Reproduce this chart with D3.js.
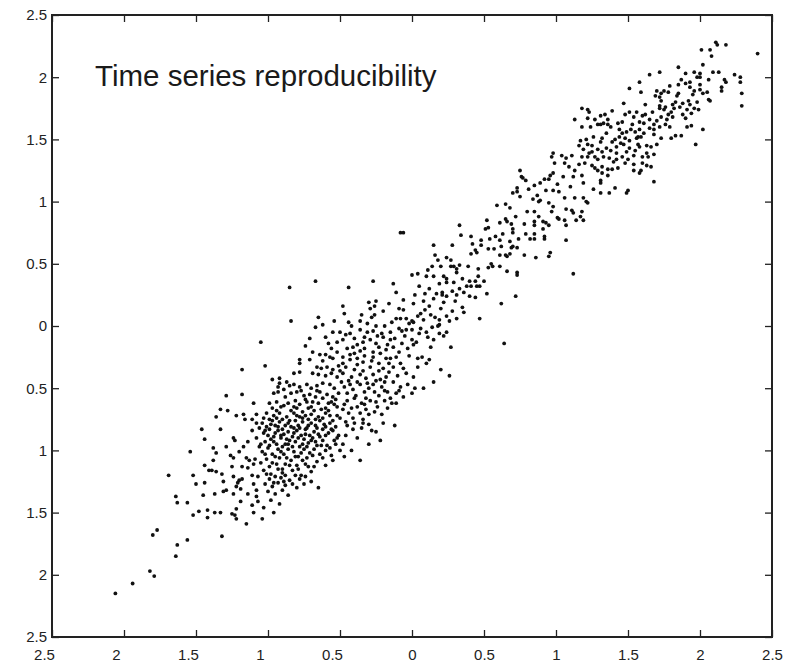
<!DOCTYPE html>
<html><head><meta charset="utf-8">
<script src="https://cdn.jsdelivr.net/npm/d3@7"></script>
<style>body{margin:0;background:#fff}</style>
</head><body>
<svg id="chart" width="785" height="665"></svg>
<script>
const tickValues = [-2.5,-2,-1.5,-1,-0.5,0,0.5,1,1.5,2,2.5];
const tickLabels = ["2.5","2","1.5","1","0.5","0","0.5","1","1.5","2","2.5"];
const titleText = "Time series reproducibility";

const lowerTail = [[-2.06,-2.15],[-1.94,-2.07],[-1.69,-1.20],[-1.64,-1.37],[-1.63,-1.42],[-1.77,-1.64],[-1.80,-1.68],[-1.63,-1.76],[-1.64,-1.85],[-1.82,-1.97],[-1.79,-2.01],
[-1.20,-1.24],[-1.21,-1.26],[-1.31,-1.25],[-1.10,-1.27],[-1.44,-1.26],[-1.50,-1.27],[-1.19,-1.31],[-1.22,-1.29],[-1.08,-1.32],[-1.29,-1.32],[-1.31,-1.33],
[-1.14,-1.35],[-1.24,-1.35],[-1.37,-1.35],[-1.45,-1.36],[-1.56,-1.42],[-1.08,-1.37],[-1.07,-1.41],[-1.19,-1.41],[-1.11,-1.44],[-1.22,-1.47],[-1.25,-1.51],[-1.23,-1.52],
[-1.48,-1.49],[-1.42,-1.48],[-1.37,-1.50],[-1.33,-1.50],[-1.52,-1.52],[-1.42,-1.54],[-1.10,-1.50],[-1.22,-1.55],[-1.15,-1.59],[-1.32,-1.69],[-1.56,-1.72]];

const lowerCore = [[-1.02,-1.27],[-0.97,-1.29],[-0.93,-1.26],[-0.88,-1.28],[-0.83,-1.27],[-1.00,-1.33],[-0.95,-1.35],[-0.90,-1.32],[-0.86,-1.36],[-0.98,-1.40],[-0.92,-1.43],
[-1.03,-1.46],[-0.96,-1.50],[-0.80,-1.30],[-0.75,-1.27],[-1.04,-1.55],[-0.70,-1.25],[-0.65,-1.30],
[-0.45,-0.80],[-0.40,-0.78],[-0.35,-0.82],[-0.30,-0.79],[-0.46,-0.88],[-0.38,-0.90],[-0.48,-0.95],[-0.42,-1.00],[-0.25,-0.85],[-0.20,-0.78],[-0.30,-0.95],[-0.47,-1.05],
[-0.12,-0.80],[-0.36,-1.08],[-0.22,-0.92],
[0.10,-0.30],[0.20,-0.35],[0.15,-0.45],[0.08,-0.50],[0.26,-0.40],[0.64,-0.14],[0.62,0.18]];

const leftFlank = [[-1.18,-0.35],[-1.29,-0.56],[-1.18,-0.55],[-1.10,-0.62],[-1.33,-0.67],[-1.28,-0.68],[-1.36,-0.73],[-1.22,-0.72],[-1.17,-0.71],[-1.16,-0.75],[-1.11,-0.75],[-1.08,-0.71],
[-1.46,-0.83],[-1.33,-0.83],[-1.44,-0.91],[-1.24,-0.90],[-1.23,-0.92],[-1.54,-1.01],[-1.38,-0.98],[-1.36,-1.02],[-1.26,-1.04],[-1.24,-1.06],[-1.20,-1.01],[-1.15,-1.06],[-1.13,-1.08],[-1.09,-1.07],
[-1.44,-1.12],[-1.41,-1.16],[-1.39,-1.16],[-1.36,-1.17],[-1.32,-1.19],[-1.38,-1.08],[-1.25,-1.13],[-1.18,-1.13],[-1.14,-1.14],[-1.10,-1.11],[-1.52,-1.20],[-1.24,-1.21],[-1.18,-1.23],[-1.11,-1.20],
[-1.07,-1.21],[-1.06,-0.97],[-1.08,-0.90],[-1.11,-0.84],[-1.08,-0.78],[-1.14,-0.93],[-1.17,-0.97],[-1.29,-0.97]];

const coreLower = [[-1.04,-0.78],[-1.01,-0.81],[-0.97,-0.76],[-0.95,-0.80],[-0.92,-0.77],[-0.90,-0.83],[-0.86,-0.78],[-0.84,-0.81],[-0.81,-0.76],[-0.79,-0.80],[-0.76,-0.77],[-0.73,-0.82],[-0.70,-0.78],[-0.67,-0.80],[-0.64,-0.76],[-0.61,-0.79],[-0.57,-0.78],[-0.53,-0.81],
[-1.03,-0.86],[-0.99,-0.83],[-0.96,-0.89],[-0.93,-0.84],[-0.89,-0.87],[-0.86,-0.85],[-0.83,-0.89],[-0.80,-0.84],[-0.77,-0.88],[-0.74,-0.83],[-0.71,-0.88],[-0.68,-0.85],[-0.65,-0.87],[-0.62,-0.83],[-0.58,-0.86],[-0.55,-0.84],[-0.51,-0.88],
[-1.02,-0.93],[-0.98,-0.91],[-0.94,-0.95],[-0.91,-0.90],[-0.88,-0.95],[-0.85,-0.92],[-0.81,-0.93],[-0.78,-0.97],[-0.75,-0.91],[-0.72,-0.94],[-0.69,-0.90],[-0.66,-0.96],[-0.62,-0.92],[-0.59,-0.96],[-0.54,-0.92],
[-1.04,-1.01],[-1.00,-0.98],[-0.97,-1.03],[-0.93,-0.99],[-0.89,-1.03],[-0.86,-0.99],[-0.82,-1.01],[-0.79,-1.05],[-0.75,-0.99],[-0.71,-1.02],[-0.68,-0.99],[-0.64,-1.03],[-0.60,-1.00],[-0.56,-1.04],
[-1.01,-1.07],[-0.97,-1.10],[-0.92,-1.06],[-0.88,-1.11],[-0.84,-1.08],[-0.80,-1.12],[-0.76,-1.08],[-0.72,-1.13],[-0.66,-1.09],[-0.60,-1.12],
[-1.03,-1.16],[-0.98,-1.19],[-0.93,-1.15],[-0.88,-1.20],[-0.83,-1.16],[-0.77,-1.20],[-0.70,-1.17],[-0.99,-1.23],[-0.91,-1.22],[-0.85,-1.24],[-0.78,-1.23]];

const coreDense = [[-0.93,-0.49],[-0.89,-0.51],[-0.85,-0.48],[-0.81,-0.60],[-0.77,-0.52],[-0.74,-0.59],[-0.69,-0.61],[-0.66,-0.52],[-0.62,-0.58],[-0.58,-0.62],[-0.53,-0.59],
[-0.97,-0.66],[-0.94,-0.68],[-0.89,-0.64],[-0.84,-0.68],[-0.80,-0.66],[-0.76,-0.69],[-0.72,-0.66],[-0.68,-0.68],[-0.63,-0.67],[-0.58,-0.68],[-0.54,-0.63],
[-1.03,-0.74],[-0.99,-0.75],[-0.94,-0.74],[-0.90,-0.75],[-0.85,-0.76],[-0.80,-0.72],[-0.76,-0.74],[-0.72,-0.75],[-0.67,-0.75],[-0.62,-0.74],[-0.55,-0.76],
[-1.06,-0.82],[-1.02,-0.84],[-0.98,-0.79],[-0.93,-0.81],[-0.88,-0.80],[-0.82,-0.82],[-0.78,-0.82],[-0.72,-0.80],[-0.66,-0.82],[-0.60,-0.81],[-0.56,-0.83],
[-1.00,-0.88],[-0.95,-0.86],[-0.91,-0.88],[-0.87,-0.91],[-0.82,-0.86],[-0.79,-0.90],[-0.74,-0.87],[-0.70,-0.92],[-0.64,-0.89],[-0.60,-0.88],[-0.52,-0.90],
[-1.05,-0.95],[-0.99,-0.96],[-0.96,-0.93],[-0.90,-0.97],[-0.86,-0.95],[-0.83,-0.97],[-0.76,-0.95],[-0.73,-0.97],[-0.67,-0.93],[-0.63,-0.96],[-0.57,-0.98],
[-1.02,-1.03],[-0.95,-1.05],[-0.91,-1.01],[-0.87,-1.06],[-0.81,-1.05],[-0.77,-1.02],[-0.73,-1.06],[-0.69,-1.04],[-0.62,-1.06],
[-1.05,-1.10],[-0.99,-1.13],[-0.94,-1.11],[-0.90,-1.15],[-0.85,-1.12],[-0.79,-1.15],[-0.74,-1.11],[-0.68,-1.13],
[-1.01,-1.19],[-0.95,-1.21],[-0.90,-1.18],[-0.81,-1.20],[-0.74,-1.21],[-0.96,-1.26],[-0.89,-1.25],
[-0.69,-0.21],[-0.62,-0.28],[-0.55,-0.26],[-0.50,-0.36],[-0.46,-0.33],[-0.44,-0.44],[-0.40,-0.35],[-0.38,-0.45],[-0.34,-0.36],[-0.31,-0.46],[-0.28,-0.28],[-0.25,-0.44],[-0.23,-0.36],[-0.19,-0.45],[-0.16,-0.30],[-0.10,-0.40],[-0.06,-0.34],
[-0.49,-0.45],[-0.45,-0.54],[-0.43,-0.47],[-0.39,-0.56],[-0.33,-0.53],[-0.32,-0.58],[-0.27,-0.47],[-0.23,-0.56],[-0.19,-0.52],[-0.15,-0.58],[-0.09,-0.52],
[-0.47,-0.63],[-0.44,-0.70],[-0.38,-0.65],[-0.33,-0.63],[-0.30,-0.71],[-0.24,-0.65],[-0.17,-0.66],[-0.11,-0.62],
[-0.46,-0.77],[-0.41,-0.83],[-0.34,-0.78],[-0.28,-0.84],[-0.53,-0.95],[-0.50,-1.00],[-0.55,-1.08]];

const coreUpper = [[-0.85,0.31],[-0.67,0.36],[-0.84,0.04],[-0.65,0.07],[-0.67,-0.01],[-1.05,-0.13],[-1.02,-0.32],[-0.71,-0.10],[-0.74,-0.16],[-0.78,-0.27],[-0.78,-0.30],[-0.97,-0.43],[-0.92,-0.42],[-0.54,0.04],
[-0.58,-0.14],[-0.56,-0.18],[-0.64,-0.23],[-0.60,-0.23],[-0.57,-0.25],[-0.52,-0.21],[-0.71,-0.27],[-0.66,-0.33],[-0.63,-0.34],[-0.59,-0.33],[-0.55,-0.35],[-0.51,-0.32],
[-0.82,-0.38],[-0.78,-0.37],[-0.69,-0.38],[-0.65,-0.39],[-0.60,-0.40],[-0.56,-0.38],[-0.52,-0.41],
[-0.92,-0.46],[-0.87,-0.45],[-0.82,-0.47],[-0.78,-0.49],[-0.73,-0.47],[-0.70,-0.50],[-0.66,-0.48],[-0.62,-0.46],[-0.57,-0.47],[-0.54,-0.50],
[-0.96,-0.54],[-0.93,-0.53],[-0.88,-0.57],[-0.84,-0.54],[-0.80,-0.53],[-0.75,-0.56],[-0.71,-0.55],[-0.67,-0.57],[-0.64,-0.53],[-0.59,-0.55],[-0.55,-0.57],[-0.51,-0.54],
[-0.99,-0.62],[-0.94,-0.61],[-0.91,-0.65],[-0.86,-0.62],[-0.82,-0.65],[-0.78,-0.63],[-0.73,-0.61],[-0.70,-0.65],[-0.65,-0.62],[-0.60,-0.66],[-0.56,-0.61],[-0.52,-0.65],
[-1.01,-0.70],[-0.96,-0.72],[-0.92,-0.70],[-0.87,-0.73],[-0.82,-0.70],[-0.78,-0.73],[-0.74,-0.72],[-0.70,-0.71],[-0.65,-0.73],[-0.60,-0.70],[-0.57,-0.72],[-0.52,-0.72]];

const coreRight = [[-0.48,-0.30],[-0.43,-0.27],[-0.38,-0.31],[-0.34,-0.29],[-0.29,-0.33],[-0.23,-0.30],[-0.20,-0.34],[-0.16,-0.37],[-0.13,-0.33],[-0.08,-0.30],[-0.04,-0.38],[0.01,-0.41],[0.04,-0.33],
[-0.48,-0.38],[-0.42,-0.41],[-0.36,-0.39],[-0.32,-0.42],[-0.27,-0.39],[-0.22,-0.43],[-0.18,-0.41],[-0.13,-0.45],[-0.08,-0.49],[-0.03,-0.47],[0.02,-0.50],
[-0.47,-0.49],[-0.41,-0.51],[-0.36,-0.47],[-0.30,-0.50],[-0.26,-0.53],[-0.21,-0.49],[-0.17,-0.53],[-0.11,-0.54],[-0.06,-0.57],[0.00,-0.54],
[-0.45,-0.60],[-0.40,-0.58],[-0.35,-0.62],[-0.29,-0.60],[-0.25,-0.61],[-0.19,-0.60],[-0.14,-0.62],
[-0.48,-0.67],[-0.42,-0.66],[-0.36,-0.70],[-0.32,-0.67],[-0.26,-0.69],[-0.21,-0.71],[-0.50,-0.74],[-0.41,-0.74],[-0.34,-0.75]];

const middle = [[-0.08,0.75],[-0.06,0.75],[-0.27,0.36],[-0.13,0.34],[-0.44,0.31],[0.00,0.41],[0.02,0.25],[-0.11,0.27],[-0.06,0.21],[-0.16,0.18],[-0.30,0.19],[-0.25,0.20],[-0.48,0.16],
[-0.29,0.14],[-0.26,0.16],[-0.09,0.14],[-0.06,0.13],[0.01,0.18],[-0.47,0.10],[-0.28,0.07],[-0.26,0.09],[-0.08,0.06],[-0.04,0.06],[0.00,0.04],[0.01,0.03],[-0.36,0.04],[-0.44,0.03],[-0.14,0.03],[-0.25,0.00],
[-0.50,-0.05],[-0.43,-0.06],[-0.36,-0.03],[-0.31,-0.05],[-0.27,-0.04],[-0.21,-0.06],[-0.15,-0.05],[-0.09,-0.02],[-0.07,-0.04],[-0.04,-0.03],[0.00,-0.03],
[-0.48,-0.11],[-0.40,-0.10],[-0.34,-0.13],[-0.29,-0.11],[-0.25,-0.14],[-0.20,-0.09],[-0.15,-0.11],[-0.12,-0.10],[-0.07,-0.14],[0.00,-0.11],[0.03,-0.13],
[-0.45,-0.18],[-0.41,-0.17],[-0.36,-0.20],[-0.33,-0.18],[-0.27,-0.21],[-0.23,-0.17],[-0.18,-0.19],[-0.13,-0.17],[-0.09,-0.21],[-0.03,-0.18],[0.01,-0.15],
[-0.48,-0.25],[-0.43,-0.23],[-0.38,-0.26],[-0.33,-0.24],[-0.27,-0.25],[-0.22,-0.22],[-0.15,-0.26],[-0.11,-0.25],[0.04,-0.26],
[0.09,0.13],[0.13,0.09],[0.16,0.07],[0.19,0.05],[0.19,0.01],[0.24,0.08],[0.26,0.04],[0.35,0.15],[0.36,0.11],[0.47,0.06],[0.06,-0.02],[0.10,-0.05],[0.14,-0.01],[0.18,0.00],
[0.11,-0.09],[0.15,-0.11],[0.13,-0.17],[0.19,-0.06],[0.24,-0.05],[0.27,-0.17],[0.07,-0.25],[0.12,-0.27],
[-0.46,-0.07],[-0.42,0.00],[-0.38,-0.15],[-0.31,0.02],[-0.24,-0.08],[-0.19,0.00],[-0.17,-0.15],[-0.11,0.06],[-0.05,-0.08],[-0.02,0.02],[0.04,0.08],[0.05,-0.06],[-0.35,0.09],[-0.20,0.12],
[-0.33,-0.09],[-0.02,-0.24],[-0.18,-0.26],[-0.40,-0.22],[-0.55,-0.05],[-0.60,-0.09],[-0.62,0.01],[-0.52,-0.13],
[0.06,0.10],[0.08,0.20],[0.12,0.16],[0.15,0.22],[0.20,0.14],[0.22,0.19],[0.28,0.12],[0.30,0.20],[0.05,0.32],[0.12,0.30],[0.19,0.34],[0.29,0.35],[0.35,0.38],[0.40,0.24],[0.46,0.40],[0.50,0.36],
[0.08,0.05],[0.31,0.06],[0.22,-0.08],[0.04,0.42],[0.11,0.45],[0.20,0.48]];

const upperMiddle = [[1.16,1.45],[0.98,1.39],[0.97,1.36],[1.04,1.37],[1.11,1.37],[1.07,1.35],[1.16,1.30],[0.99,1.31],[1.06,1.31],[1.09,1.28],[1.13,1.25],[0.75,1.25],[0.98,1.23],[0.96,1.21],[0.95,1.18],
[0.76,1.20],[0.77,1.19],[0.79,1.17],[1.12,1.20],[1.01,1.14],[0.89,1.15],[0.85,1.13],[0.93,1.09],[0.98,1.09],[0.73,1.11],[0.73,1.08],[0.70,1.07],[0.75,1.04],[0.87,1.05],[0.89,1.01],[0.88,1.00],
[1.06,1.03],[1.13,1.03],[0.59,0.97],[0.65,0.98],[0.68,0.95],[0.98,0.96],[0.97,0.92],[1.07,0.94],[1.11,0.93],[1.12,0.91],[0.85,0.92],[1.14,0.85],[0.52,0.85],[0.65,0.86],[0.66,0.84],[0.61,0.83],
[0.85,0.84],[0.85,0.81],[0.91,0.84],[0.93,0.83],[0.95,0.81],[1.01,0.87],[1.02,0.86],[1.06,0.85],[1.07,0.81],[0.91,0.78],[0.70,0.78],[0.70,0.75],[0.53,0.79],[0.51,0.78],[0.33,0.81],[0.34,0.73],
[0.41,0.72],[0.42,0.66],[0.48,0.69],[0.48,0.65],[0.54,0.70],[0.61,0.69],[0.62,0.64],[0.68,0.68],[0.70,0.64],[0.73,0.63],[0.79,0.74],[0.82,0.70],[0.85,0.74],[0.85,0.70],[0.92,0.72],[0.92,0.70],
[1.07,0.69],[0.53,0.62],[0.44,0.61],[0.45,0.59],[0.41,0.58],[0.61,0.57],[0.65,0.57],[0.66,0.56],[0.68,0.58],[0.69,0.63],[0.78,0.57],[0.86,0.55],[0.95,0.56],[0.96,0.59],
[0.15,0.65],[0.28,0.65],[0.16,0.57],[0.18,0.53],[0.24,0.55],[0.27,0.53],[0.27,0.48],[0.29,0.48],[0.31,0.46],[0.33,0.49],[0.39,0.48],[0.46,0.46],[0.53,0.47],[0.55,0.50],[0.56,0.48],[0.61,0.48],
[0.14,0.48],[0.10,0.40],[0.15,0.40],[0.22,0.40],[0.24,0.38],[0.24,0.35],[0.31,0.43],[0.66,0.44],[0.73,0.43],[0.73,0.41],[1.12,0.42],
[0.09,0.26],[0.17,0.26],[0.21,0.27],[0.21,0.25],[0.24,0.24],[0.28,0.28],[0.31,0.25],[0.33,0.30],[0.36,0.27],[0.38,0.32],[0.40,0.36],[0.44,0.36],[0.45,0.32],[0.47,0.32],[0.41,0.32],[0.44,0.23],[0.52,0.26],[0.72,0.24],
[0.57,0.62],[0.63,0.74],[0.74,0.70],[0.78,0.82],[0.80,0.92],[0.72,0.88],[0.88,0.88],[0.95,0.99],[1.02,1.08],[0.84,1.02],[0.92,1.18],[1.05,1.20],[0.81,1.10],[0.69,0.82],[0.58,0.72],[1.10,1.12]];

const upperBand = [[1.13,1.66],[1.18,1.75],[1.22,1.74],[1.23,1.72],[1.22,1.67],[1.31,1.69],[1.34,1.70],[1.39,1.73],[1.36,1.66],[1.27,1.66],[1.29,1.62],[1.31,1.62],[1.33,1.63],[1.36,1.62],[1.38,1.60],
[1.18,1.60],[1.24,1.60],[1.43,1.63],[1.17,1.49],[1.21,1.50],[1.22,1.46],[1.19,1.42],[1.25,1.40],[1.23,1.39],[1.29,1.42],[1.31,1.48],[1.32,1.51],[1.39,1.48],[1.41,1.50],[1.32,1.40],[1.35,1.43],
[1.38,1.41],[1.42,1.44],[1.42,1.39],[1.18,1.36],[1.22,1.36],[1.27,1.36],[1.29,1.34],[1.33,1.36],[1.37,1.35],[1.42,1.34],[1.20,1.31],[1.25,1.29],[1.27,1.27],[1.32,1.28],[1.36,1.26],[1.39,1.26],
[1.43,1.27],[1.29,1.25],[1.32,1.23],[1.36,1.21],[1.18,1.21],[1.19,1.15],[1.31,1.17],[1.31,1.15],[1.26,1.10],[1.41,1.11],[1.31,1.07],[1.37,1.07],[1.19,1.03],[1.21,1.00],[1.22,0.99],[1.18,0.92],
[1.17,0.88],[1.19,0.85],[1.49,1.07],[1.50,1.09],
[1.26,1.52],[1.35,1.55],[1.46,1.64],[1.53,1.62],[1.62,1.78],[1.67,1.72],[1.69,1.85],[1.79,1.93],[1.88,1.70],[1.95,1.86],[1.40,1.32],[1.50,1.34],[1.57,1.52],[1.70,1.46],[1.25,1.45],[1.45,1.47]];

const topCluster = [[2.11,2.28],[2.12,2.26],[2.18,2.26],[2.01,2.22],[2.07,2.22],[2.08,2.17],[2.40,2.19],[2.02,2.10],[1.85,2.08],[1.72,2.04],[1.65,2.02],[2.09,2.04],[2.13,2.04],[1.96,2.04],[2.00,2.03],
[1.90,2.03],[1.98,2.00],[2.00,2.00],[1.87,1.98],[2.06,1.98],[2.17,1.98],[2.18,1.96],[2.24,2.02],[2.28,2.00],[2.28,1.96],[1.58,1.96],[1.93,1.96],[1.90,1.95],[1.85,1.94],[2.00,1.94],[1.93,1.92],
[1.96,1.89],[2.00,1.90],[2.02,1.87],[2.05,1.88],[2.15,1.92],[2.15,1.89],[2.29,1.87],[1.51,1.91],[1.59,1.88],[1.70,1.89],[1.73,1.87],[1.75,1.89],[1.78,1.88],[1.85,1.87],[2.06,1.82],[2.07,1.81],
[1.98,1.80],[1.92,1.81],[1.88,1.79],[1.93,1.78],[1.96,1.75],[1.99,1.74],[1.91,1.74],[1.94,1.71],[1.84,1.85],[1.83,1.80],[1.81,1.78],[1.82,1.75],[1.86,1.76],[1.72,1.84],[1.73,1.81],[1.72,1.77],
[1.72,1.75],[1.76,1.76],[1.75,1.74],[1.80,1.72],[1.78,1.70],[1.81,1.68],[1.77,1.66],[1.73,1.68],[1.70,1.65],[1.68,1.62],[1.72,1.60],[1.76,1.62],[1.79,1.60],[1.91,1.60],[1.94,1.61],[1.90,1.67],
[2.02,1.58],[2.29,1.77],[1.47,1.79],[1.51,1.72],[1.48,1.70],[1.56,1.72],[1.60,1.69],[1.62,1.70],[1.54,1.68],[1.58,1.64],[1.61,1.63],[1.65,1.66],[1.65,1.59],[1.68,1.58],
[1.44,1.58],[1.46,1.55],[1.49,1.56],[1.52,1.58],[1.55,1.56],[1.58,1.58],[1.61,1.55],[1.68,1.54],[1.73,1.51],[1.80,1.51],[1.83,1.53],[1.87,1.53],[1.44,1.52],[1.48,1.51],[1.51,1.49],[1.56,1.51],
[1.59,1.52],[1.57,1.46],[1.47,1.46],[1.51,1.43],[1.55,1.41],[1.58,1.44],[1.63,1.45],[1.66,1.44],[1.68,1.38],[1.63,1.39],[1.60,1.36],[1.54,1.37],[1.49,1.40],[1.46,1.36],[1.48,1.31],[1.54,1.30],
[1.60,1.31],[1.64,1.36],[1.63,1.29],[1.59,1.25],[1.54,1.25],[1.66,1.28],[1.58,1.23],[1.68,1.16],[1.97,1.46]];

const groups = [lowerTail, lowerCore, leftFlank, coreLower, coreDense, coreUpper, coreRight, middle, upperMiddle, upperBand, topCluster];

const svg = d3.select("#chart");
const xScale = d3.scaleLinear().domain([-2.5, 2.5]).range([52, 772]);
const yScale = d3.scaleLinear().domain([-2.5, 2.5]).range([637, 15]);
const fmt = d => tickLabels[tickValues.indexOf(d)];
const font = "'Liberation Sans', Arial, Helvetica, sans-serif";

function styleAxis(g) {
  g.select(".domain").remove();
  g.selectAll(".tick line").attr("stroke", "#222").attr("stroke-width", 1.3);
  g.selectAll(".tick text").attr("fill", "#222").style("font-family", font).style("font-size", "15px");
}

svg.append("g").attr("transform", "translate(0,637)")
  .call(d3.axisBottom(xScale).tickValues(tickValues).tickFormat(fmt).tickSizeInner(-7).tickSizeOuter(0).tickPadding(12))
  .call(styleAxis)
  .call(g => g.selectAll(".tick text").attr("dx", d => d < 0 ? -8 : 0));
svg.append("g").attr("transform", "translate(0,15)")
  .call(d3.axisTop(xScale).tickValues(tickValues).tickFormat("").tickSizeInner(-7).tickSizeOuter(0))
  .call(styleAxis);
svg.append("g").attr("transform", "translate(52,0)")
  .call(d3.axisLeft(yScale).tickValues(tickValues).tickFormat(fmt).tickSizeInner(-7).tickSizeOuter(0).tickPadding(5))
  .call(styleAxis);
svg.append("g").attr("transform", "translate(772,0)")
  .call(d3.axisRight(yScale).tickValues(tickValues).tickFormat("").tickSizeInner(-7).tickSizeOuter(0))
  .call(styleAxis);

svg.append("rect").attr("x", xScale(-2.5)).attr("y", yScale(2.5))
  .attr("width", xScale(2.5) - xScale(-2.5)).attr("height", yScale(-2.5) - yScale(2.5))
  .attr("fill", "none").attr("stroke", "#222").attr("stroke-width", 2);

const points = groups.flat();
svg.append("g").selectAll("circle").data(points).join("circle")
  .attr("cx", d => xScale(d[0])).attr("cy", d => yScale(d[1]))
  .attr("r", 1.9).attr("fill", "#111");

svg.append("text").attr("x", 95).attr("y", 86).text(titleText)
  .attr("fill", "#1a1a1a").style("font-family", font).style("font-size", "29.5px");
</script>
</body></html>
